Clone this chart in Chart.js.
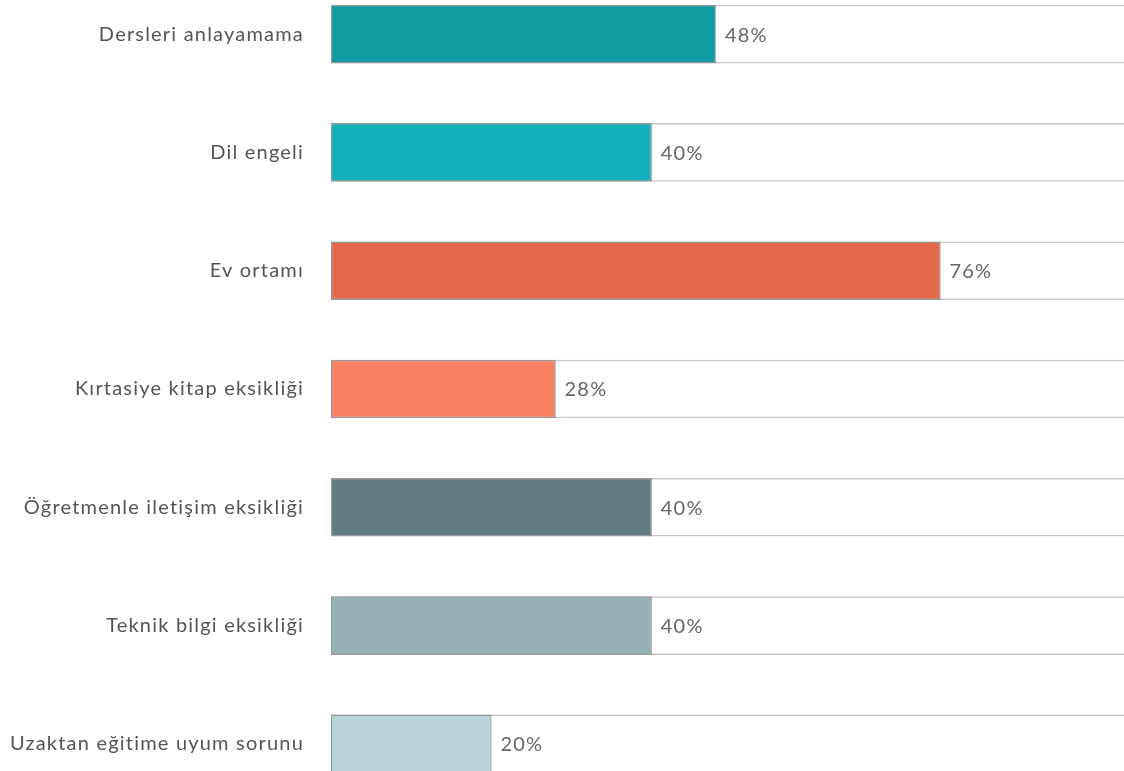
<!DOCTYPE html>
<html>
<head>
<meta charset="utf-8">
<script src="https://cdnjs.cloudflare.com/ajax/libs/Chart.js/4.4.1/chart.umd.js"></script>
<style>
    html, body { margin: 0; padding: 0; background: #fff; overflow: hidden; width: 1124px; height: 771px; }
    #chart { position: absolute; left: 0; top: -56px; width: 1140px; height: 890px; }
</style>
</head>
<body>
<canvas id="chart" width="1140" height="890"></canvas>
<script>
const categories = [
    'Dersleri anlayamama',
    'Dil engeli',
    'Ev ortamı',
    'Kırtasiye kitap eksikliği',
    'Öğretmenle iletişim eksikliği',
    'Teknik bilgi eksikliği',
    'Uzaktan eğitime uyum sorunu'
];
const values = [48, 40, 76, 28, 40, 40, 20];
const trackValues = [100, 100, 100, 100, 100, 100, 100];
const barColors = ['#0f9ba1', '#12b1b9', '#e4694b', '#f98163', '#617d81', '#94b2b6', '#b7d5da'];

const FONT = 'Lato, "Open Sans", sans-serif';

// wider letter spacing, like the original rendering
const spacing = {
    id: 'spacing',
    beforeDraw(chart) {
        chart.ctx.letterSpacing = '1.2px';
    }
};

// draws "48%" just right of the filled part
const valueLabels = {
    id: 'valueLabels',
    afterDatasetsDraw(chart) {
        const ctx = chart.ctx;
        const meta = chart.getDatasetMeta(0);
        ctx.save();
        ctx.font = '20px ' + FONT;
        ctx.fillStyle = '#666';
        ctx.textBaseline = 'middle';
        ctx.textAlign = 'left';
        meta.data.forEach((bar, i) => {
            ctx.fillText(values[i] + '%', bar.x + 9, bar.y + 1);
        });
        ctx.restore();
    }
};

new Chart(document.getElementById('chart'), {
    type: 'bar',
    data: {
        labels: categories,
        datasets: [
            {
                data: values,
                backgroundColor: barColors,
                borderColor: 'rgba(90,90,90,0.45)',
                borderWidth: 1.5,
                borderSkipped: false,
                barThickness: 58,
                order: 0
            },
            {
                data: trackValues,
                backgroundColor: '#fff',
                borderColor: '#c8c8c8',
                borderWidth: 1.5,
                borderSkipped: false,
                barThickness: 58,
                order: 1
            }
        ]
    },
    options: {
        indexAxis: 'y',
        responsive: false,
        animation: false,
        devicePixelRatio: 1,
        layout: { padding: { left: 0, right: 7, top: 0, bottom: 0 } },
        plugins: { legend: { display: false }, tooltip: { enabled: false } },
        scales: {
            x: {
                display: false,
                min: 0,
                max: 100
            },
            y: {
                grid: { display: false },
                border: { display: false },
                ticks: {
                    padding: 19,
                    color: '#555',
                    font: { family: FONT, size: 20 }
                },
                afterFit(scale) { scale.width = 331; }
            }
        },
        datasets: { bar: { grouped: false } }
    },
    plugins: [spacing, valueLabels]
});
</script>
</body>
</html>
